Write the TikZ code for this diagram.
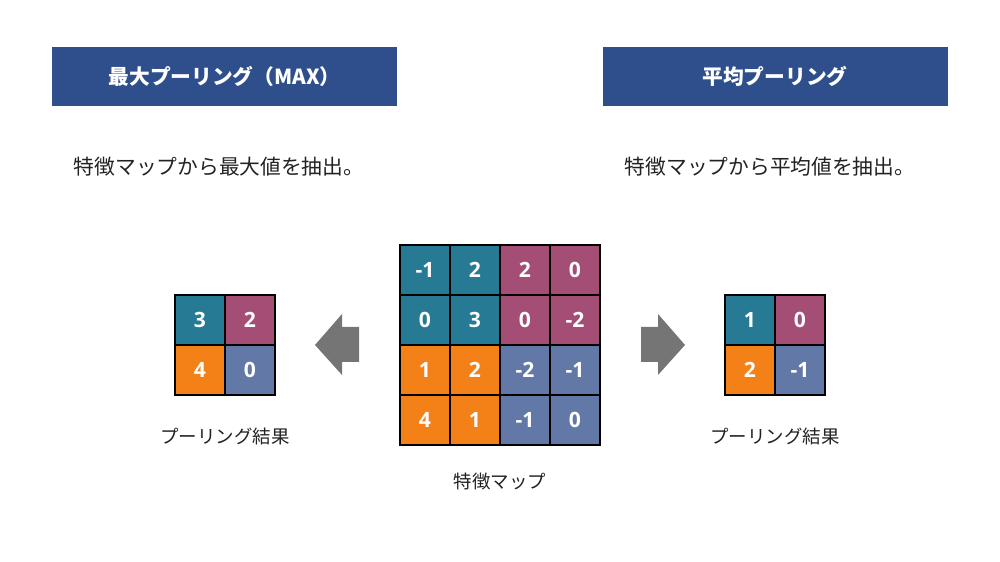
\documentclass[tikz,border=0pt]{standalone}
\usepackage{fontspec}
\setmainfont{Open Sans}
\newfontfamily\jp{Noto Sans CJK JP}
\usepackage{xcolor}
\usepackage{tikz}
\usetikzlibrary{positioning,calc}
\definecolor{pltitle}{HTML}{2E4F8C}
\definecolor{plteal}{HTML}{277A94}
\definecolor{plplum}{HTML}{A44E75}
\definecolor{plorange}{HTML}{F38118}
\definecolor{plslate}{HTML}{6278A6}
\definecolor{plarrow}{HTML}{757575}
\definecolor{plink}{HTML}{222222}
\tikzset{
  headbar/.style={rectangle,fill=pltitle,minimum width=6.9cm,minimum height=1.18cm,
                  inner sep=0pt,text=white,font=\jp\bfseries\fontsize{11.8}{13}\selectfont},
  note/.style={text=plink,inner sep=0pt,font=\jp\fontsize{11.8}{13}\selectfont},
  caption/.style={text=plink,inner sep=0pt,font=\jp\fontsize{10.5}{12}\selectfont},
  cell/.style={rectangle,draw=black,line width=0.6pt,minimum size=1cm,inner sep=0pt,
               text=white,font=\fontsize{12}{14}\selectfont\bfseries},
  pointer/.style={fill=plarrow},
}

\begin{document}
\begin{tikzpicture}
  \useasboundingbox (0,0) rectangle (20,11.24);
  % headers
  \node[headbar] (hmax) at (4.49,9.71) {最大プーリング（MAX）};
  \node[headbar] (havg) at (15.50,9.71) {平均プーリング};
  \node[note] (dmax) at (4.38,7.90) {特徴マップから最大値を抽出。};
  \node[note] (davg) at (15.40,7.90) {特徴マップから平均値を抽出。};
  % feature map
  \foreach \row [count=\i from 0] in {{-1/plteal,2/plteal,2/plplum,0/plplum},
                                      {0/plteal,3/plteal,0/plplum,-2/plplum},
                                      {1/plorange,2/plorange,-2/plslate,-1/plslate},
                                      {4/plorange,1/plorange,-1/plslate,0/plslate}}
    \foreach \v/\c [count=\j from 0] in \row
      \node[cell,fill=\c] (f\i\j) at (8.5+\j,5.84-\i) {\v};
  \node[caption] (fcap) at (10.0,1.60) {特徴マップ};
  % max pooling result
  \foreach \v/\c [count=\k from 0] in {3/plteal,2/plplum,4/plorange,0/plslate}{
    \pgfmathtruncatemacro\i{int(\k/2)}
    \pgfmathtruncatemacro\j{mod(\k,2)}
    \node[cell,fill=\c] (m\i\j) at (4.0+\j,4.84-\i) {\v};
  }
  \node[caption] (mcap) at (4.5,2.50) {プーリング結果};
  % average pooling result
  \foreach \v/\c [count=\k from 0] in {1/plteal,0/plplum,2/plorange,-1/plslate}{
    \pgfmathtruncatemacro\i{int(\k/2)}
    \pgfmathtruncatemacro\j{mod(\k,2)}
    \node[cell,fill=\c] (a\i\j) at (15.0+\j,4.84-\i) {\v};
  }
  \node[caption] (acap) at (15.5,2.50) {プーリング結果};
  % arrows
  \fill[pointer] (6.30,4.34) -- (6.84,4.96) -- (6.84,4.70) -- (7.18,4.70)
                 -- (7.18,4.00) -- (6.84,4.00) -- (6.84,3.74) -- cycle;
  \fill[pointer] (13.70,4.34) -- (13.16,4.96) -- (13.16,4.70) -- (12.82,4.70)
                 -- (12.82,4.00) -- (13.16,4.00) -- (13.16,3.74) -- cycle;
\end{tikzpicture}
\end{document}
